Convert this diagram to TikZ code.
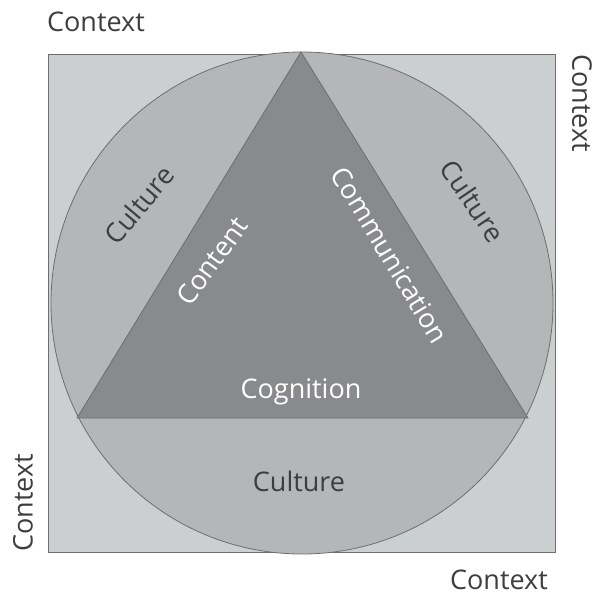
\documentclass[tikz,border=0pt]{standalone}
\usepackage{fontspec}
\setmainfont{Open Sans}
\definecolor{ctxfill}{HTML}{CCCFD0}
\definecolor{culfill}{HTML}{B4B6B7}
\definecolor{trifill}{HTML}{898A8B}
\definecolor{edge}{HTML}{6E6E6E}
\definecolor{darktext}{HTML}{3E3E3E}
\tikzset{
  lbl/.style={font=\fontsize{27}{32}\selectfont, inner sep=0pt},
  darklbl/.style={lbl, text=darktext},
  whitelbl/.style={lbl, text=white},
}
\begin{document}
\begin{tikzpicture}[x=1pt,y=-1pt]
\useasboundingbox (0,0) rectangle (594,597);
% context square
\draw[edge, line width=1pt, fill=ctxfill] (48,54) rectangle (555,552);
% culture circle
\draw[edge, line width=0.8pt, fill=culfill] (302,303) circle (251);
% triangle
\coordinate (top) at (301,52);
\coordinate (bl) at (77,418);
\coordinate (br) at (528,418);
\draw[edge, line width=0.8pt, fill=trifill] (top) -- (bl) -- (br) -- cycle;
% labels
\node[darklbl] (ctxTL) at (96,22) {Context};
\node[darklbl, rotate=-90] (ctxR) at (582,103) {Context};
\node[darklbl, rotate=90] (ctxL) at (23,503) {Context};
\node[darklbl] (ctxBR) at (499,580) {Context};
\node[darklbl, rotate=50] (culL) at (139,205) {Culture};
\node[darklbl, rotate=-56] (culR) at (473,201) {Culture};
\node[darklbl] (culB) at (299,481) {Culture};
\node[whitelbl, rotate=54] (content) at (212,261) {Content};
\node[whitelbl, rotate=-59] (comm) at (390,255) {Communication};
\node[whitelbl] (cog) at (301,392) {Cognition};
\end{tikzpicture}
\end{document}
